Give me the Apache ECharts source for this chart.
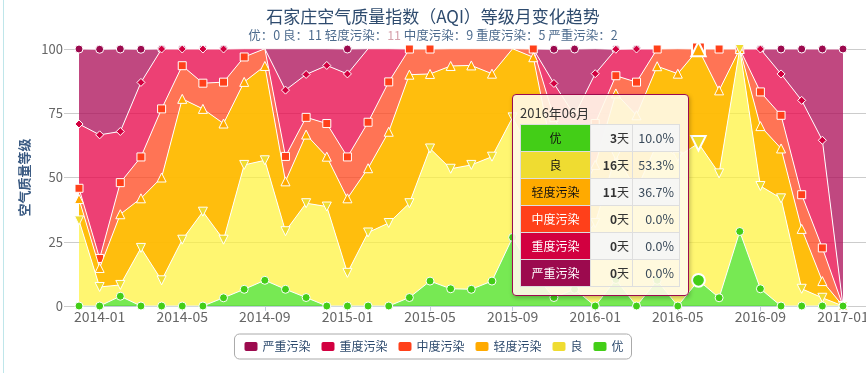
<!DOCTYPE html>
<html><head><meta charset="utf-8">
<script src="https://cdn.jsdelivr.net/npm/echarts@6/dist/echarts.min.js"></script>
<style>
html,body{margin:0;padding:0;background:#fff;}
#c{position:absolute;left:0;top:0;width:866px;height:373px;}
#edge{position:absolute;left:3px;top:0;width:1px;height:373px;background:#bfe6ea;}
.tt table{border-collapse:collapse;font-size:12px;table-layout:fixed;}
.tt td{border:1px solid #dedede;height:26px;padding:0 5px;line-height:26px;}
</style></head><body>
<div id="c"></div><div id="edge"></div>
<script>
const months = ['2013-12','2014-01','2014-02','2014-03','2014-04','2014-05','2014-06','2014-07','2014-08','2014-09','2014-10','2014-11','2014-12','2015-01','2015-02','2015-03','2015-04','2015-05','2015-06','2015-07','2015-08','2015-09','2015-10','2015-11','2015-12','2016-01','2016-02','2016-03','2016-04','2016-05','2016-06','2016-07','2016-08','2016-09','2016-10','2016-11','2016-12','2017-01'];
// percentage of days at each level per month
const excellent = [0,0,3.8,0,0,0,0,3.2,6.5,10.0,6.5,3.3,0,0,0,0,3.3,9.7,6.7,6.5,9.7,26.7,12.9,3.3,6.5,0,10.3,0,10.0,0,10.0,3.2,29.0,6.7,0,0,0,0];
const good = [33.3,7.4,4.4,22.6,10.0,25.8,36.7,22.6,48.4,46.7,22.6,36.7,38.7,12.9,28.6,32.3,36.7,51.6,46.7,48.4,48.4,46.7,45.2,30.0,16.1,32.3,48.3,45.2,53.3,58.1,53.3,48.4,71.0,40.0,41.9,6.7,3.2,0];
const light = [8.3,7.4,27.5,19.3,40.0,54.8,40.0,45.2,32.3,36.7,19.4,26.7,19.4,29.0,25.0,35.5,50.0,29.0,40.0,38.7,32.3,26.7,38.7,23.3,16.1,22.6,24.1,29.0,30.0,32.3,36.7,32.3,0,23.3,19.4,23.3,6.5,0];
const moderate = [4.2,3.7,12.3,16.1,26.7,12.9,10.0,16.1,9.7,6.7,9.7,6.7,12.9,16.1,17.9,19.4,10.0,9.7,6.7,6.5,9.7,0,3.2,16.7,19.4,16.1,6.9,12.9,6.7,9.7,0,16.1,0,13.3,12.9,13.3,12.9,0];
const heavy = [25.0,48.1,19.9,29.0,23.3,6.5,13.3,12.9,3.2,0,25.8,16.7,22.6,32.3,28.6,12.9,0,0,0,0,0,0,0,13.3,16.1,19.4,10.3,12.9,0,0,0,0,0,16.7,16.1,36.7,41.9,0];
const severe = [29.2,33.3,32.1,12.9,0,0,0,0,0,0,16.1,10.0,6.5,9.7,0,0,0,0,0,0,0,0,0,13.3,25.8,9.7,0,0,0,0,0,0,0,0,9.7,20.0,35.5,100];
const levelNames = ['优','良','轻度污染','中度污染','重度污染','严重污染'];
const legendOrder = ['严重污染','重度污染','中度污染','轻度污染','良','优'];
const yTicks = [0,25,50,75,100];

const colors = ['#43ce17','#efdc31','#ffaa00','#ff401a','#d20040','#9c0a4e'];
const areaOpacity = [0.75,0.7,0.95,0.75,0.75,0.75];
const symbols = ['circle','triangle','triangle','rect','diamond','circle'];
const symRot = [0,180,0,0,0,0];
const symSize = [8,9,9,8,8,8];
const textCol = ['#111','#111','#111','#fff','#fff','#fff'];
const seriesData = [excellent, good, light, moderate, heavy, severe];
const FONT = '"Microsoft YaHei","Noto Sans CJK SC",sans-serif';

const chart = echarts.init(document.getElementById('c'), null, {renderer:'canvas'});
const series = levelNames.map((n,k)=>({
  name:n, type:'line', stack:'aqi', data:seriesData[k],
  symbol:symbols[k], symbolRotate:symRot[k], symbolSize:symSize[k], showAllSymbol:true,
  z: 10-k,
  lineStyle:{color:'#fff', width:1},
  itemStyle:{color:colors[k], borderColor:'#fff', borderWidth:1},
  areaStyle:{color:colors[k], opacity:areaOpacity[k]},
  emphasis:{scale:1.6, focus:'none', itemStyle:{color:colors[k], borderColor:'#fff', borderWidth:2}, lineStyle:{width:1}, areaStyle:{opacity:areaOpacity[k]}},
  animation:false
}));

chart.setOption({
  animation:false,
  textStyle:{fontFamily:FONT},
  title:{
    text:'石家庄空气质量指数（AQI）等级月变化趋势',
    subtext:'优：0 良：11 轻度污染：{p|11} 中度污染：9 重度污染：5 严重污染：2',
    left:'center', top:3, itemGap:4,
    textStyle:{fontSize:17, fontWeight:'normal', color:'#2e4b6e', fontFamily:FONT},
    subtextStyle:{fontSize:12.5, color:'#4e6c8e', fontFamily:FONT, rich:{p:{fontSize:12.5, color:'#d6a3ad', fontFamily:FONT}}}
  },
  legend:{
    data:legendOrder, bottom:14, left:'center', icon:'roundRect',
    itemWidth:15, itemHeight:11, itemGap:9,
    borderColor:'#aaa', borderWidth:1, borderRadius:5, padding:[6,8],
    textStyle:{fontSize:12, color:'#2e4b6e', fontFamily:FONT, padding:[0,0,0,-1]}
  },
  grid:{left:79, right:23, top:49, bottom:67, outerBoundsMode:'none', containLabel:false},
  tooltip:{
    trigger:'axis', triggerOn:'none', alwaysShowContent:true,
    position:[512,94], transitionDuration:0,
    backgroundColor:'rgba(255,249,234,0.9)', borderColor:'#9c0a4e', borderWidth:1,
    padding:[6,8,8,7], className:'tt',
    extraCssText:'border-radius:4px;box-shadow:1px 2px 4px rgba(0,0,0,0.25);',
    textStyle:{color:'#333', fontSize:13, fontFamily:FONT},
    axisPointer:{type:'line', lineStyle:{opacity:0, width:0}},
    formatter:function(params){
      const idx = params[0].dataIndex;
      const parts = months[idx].split('-');
      const y = +parts[0], m = +parts[1];
      const nd = new Date(y, m, 0).getDate();
      let h = '<div style="font-size:13px;height:23px;line-height:23px;color:#333">'+y+'年'+parts[1]+'月</div>';
      h += '<table style="width:159px"><colgroup><col style="width:70px"><col style="width:42px"><col style="width:47px"></colgroup>';
      params.forEach((p,r)=>{
        const k = levelNames.indexOf(p.seriesName);
        const pct = +p.value;
        const days = Math.round(pct*nd/100);
        const bg = (r%2===0)?'background:rgba(246,246,246,0.95);':'';
        h += '<tr><td style="background:'+colors[k]+';color:'+textCol[k]+';text-align:center;padding:0">'+p.seriesName+'</td>'+
             '<td style="text-align:right;'+bg+'color:#333;padding:0 3px"><b>'+days+'</b>天</td>'+
             '<td style="text-align:right;'+bg+'color:#3a4a5a;font-size:12.5px">'+pct.toFixed(1)+'%</td></tr>';
      });
      h += '</table>';
      return h;
    }
  },
  xAxis:{
    type:'category', data:months, boundaryGap:false,
    axisLine:{lineStyle:{color:'#c0ccd8', width:2}},
    axisTick:{length:5, interval:(i)=>i%4===1, lineStyle:{color:'#c0ccd8'}},
    axisLabel:{interval:(i)=>i%4===1, margin:4, fontSize:14, color:'#666', fontFamily:FONT},
    splitLine:{show:false}
  },
  yAxis:[{
    type:'value', min:0, max:100, interval:25, position:'left',
    name:'空气质量等级', nameLocation:'middle', nameGap:46,
    nameTextStyle:{fontSize:13, fontWeight:'bold', color:'#3a5a82', fontFamily:FONT},
    axisLine:{show:false},
    axisTick:{show:true, length:15, lineStyle:{color:'#ccc'}},
    axisLabel:{margin:16, fontSize:13, color:'#666', fontFamily:FONT, customValues:yTicks},
    splitLine:{lineStyle:{color:'#cfcfcf', width:1}}
  },{
    type:'value', min:0, max:100, interval:25, position:'right',
    axisLine:{show:false},
    axisTick:{show:true, length:30, lineStyle:{color:'#ccc'}},
    axisLabel:{show:false}, splitLine:{show:false}
  }],
  series:series
});
chart.dispatchAction({type:'showTip', seriesIndex:0, dataIndex:30});
</script>
</body></html>
